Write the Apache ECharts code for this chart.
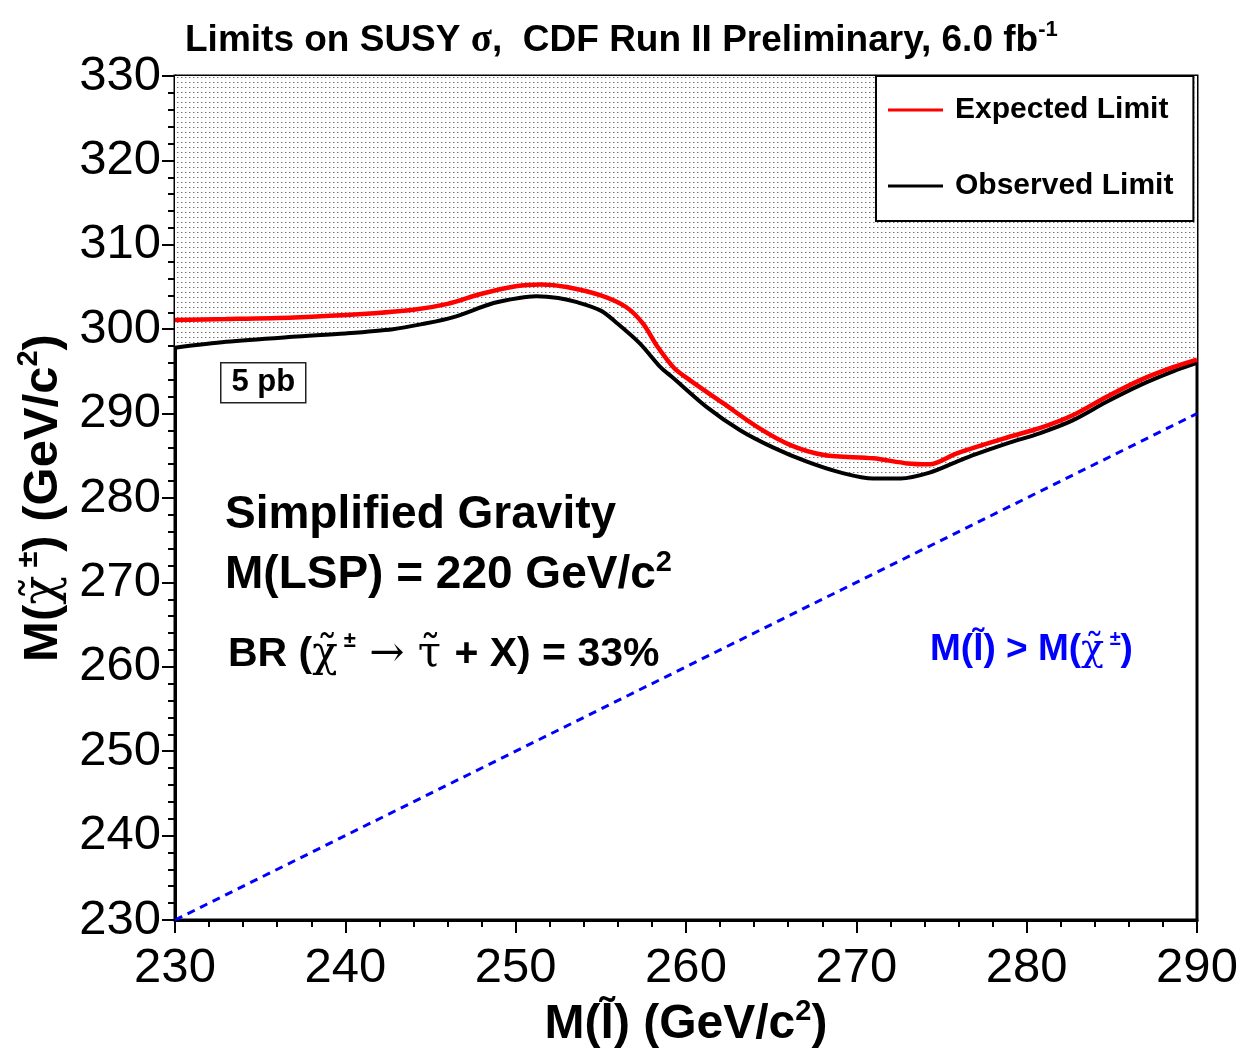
<!DOCTYPE html>
<html>
<head>
<meta charset="utf-8">
<title>Limits on SUSY cross section</title>
<script src="https://cdn.jsdelivr.net/npm/echarts@6/dist/echarts.min.js"></script>
<style>
  html, body { margin: 0; padding: 0; background: #fff; }
  #chart { width: 1242px; height: 1051px; }
</style>
</head>
<body>
<div id="chart"></div>
<script>
// Axis ranges (GeV/c^2)
const xRange = [230, 290];
const yRange = [230, 330];
const tickStep = 10;

// Expected limit: slepton mass vs chargino mass
const expectedX = [230, 233, 237, 241, 244, 246, 248, 250, 251.5, 253, 255, 256.5, 257.5, 258.3, 259.3, 260.2,
                   262.2, 264.2, 266.1, 268.1, 271.0, 273.0, 274.3, 275.9, 278.9, 280.8, 282.7, 284.7, 286.7, 288.6, 290];
const expectedY = [301.1, 301.2, 301.4, 301.8, 302.3, 303.0, 304.2, 305.1, 305.3, 305.0, 304.0, 302.6, 300.6, 298.0, 295.4, 294.0,
                   291.2, 288.4, 286.3, 285.1, 284.7, 284.1, 284.0, 285.3, 287.2, 288.3, 289.8, 292.0, 294.0, 295.5, 296.4];

// Observed limit
const observedX = [230, 233, 236.9, 240, 242.8, 244.5, 246.3, 248.7, 250.2, 251.2, 252.5, 253.6, 255.0, 255.9, 257.3, 258.5,
                   259.2, 261.2, 263.2, 265.1, 267.1, 269.1, 271.0, 272.6, 274.3, 275.9, 276.9, 278.9, 280.8, 282.7, 284.7,
                   286.7, 288.6, 290];
const observedY = [297.8, 298.5, 299.1, 299.5, 300.0, 300.6, 301.4, 303.1, 303.7, 303.9, 303.7, 303.2, 302.2, 300.8, 298.3, 295.5,
                   294.3, 290.8, 288.0, 286.0, 284.3, 283.0, 282.3, 282.3, 283.0, 284.3, 285.1, 286.5, 287.7, 289.2, 291.4,
                   293.4, 295.0, 296.0];

// Kinematic boundary M(slepton) = M(chargino)
const boundaryX = [230, 290];
const boundaryY = [230, 290];

const seriesNames = ['Expected Limit', 'Observed Limit'];

const zip = (xs, ys) => xs.map((x, i) => [x, ys[i]]);

// Stippled fill for the excluded region
function dotPattern() {
  const c = document.createElement('canvas');
  c.width = 4; c.height = 5;
  const g = c.getContext('2d');
  g.fillStyle = '#ffffff';
  g.fillRect(0, 0, 4, 5);
  g.fillStyle = '#707070';
  g.fillRect(1, 2, 1, 1);
  g.fillStyle = '#c0c0c0';
  g.fillRect(2, 2, 1, 1);
  return c;
}

const SANS = '"Liberation Sans", Arial, Helvetica, sans-serif';
const SERIF = '"DejaVu Serif", "Liberation Serif", serif';

const chart = echarts.init(document.getElementById('chart'), null, { renderer: 'canvas' });

const axisCommon = {
  type: 'value',
  interval: tickStep,
  axisLine: { show: true, onZero: false, lineStyle: { color: '#000', width: 3 } },
  axisTick: { show: true, inside: false, length: 13, lineStyle: { color: '#000', width: 2 } },
  minorTick: { show: true, splitNumber: 5, length: 7, lineStyle: { color: '#000', width: 2 } },
  splitLine: { show: false },
  minorSplitLine: { show: false },
  axisLabel: { color: '#000', fontFamily: SANS, fontSize: 49 }
};

const option = {
  animation: false,
  backgroundColor: '#fff',
  title: {
    left: 180,
    top: 14,
    text: '{b|Limits on SUSY }{g|σ}{b|,  CDF Run II Preliminary, 6.0 fb}{sup|-1}',
    textStyle: {
      rich: {
        b: { fontFamily: SANS, fontWeight: 'bold', fontSize: 37, color: '#000', lineHeight: 44 },
        g: { fontFamily: '"Liberation Serif", serif', fontSize: 39, color: '#000', lineHeight: 44 },
        sup: { fontFamily: SANS, fontWeight: 'bold', fontSize: 22, color: '#000', verticalAlign: 'top', lineHeight: 44 }
      }
    }
  },
  grid: {
    left: 175, right: 45, top: 76, bottom: 131,
    outerBoundsMode: 'none',
    show: true, borderColor: '#000', borderWidth: 3, backgroundColor: 'transparent'
  },
  legend: {
    data: [
      { name: seriesNames[0], itemStyle: { color: '#ff0000' } },
      { name: seriesNames[1], itemStyle: { color: '#000000' } }
    ],
    orient: 'vertical',
    left: 876,
    top: 76,
    icon: 'rect',
    itemWidth: 55,
    itemHeight: 3,
    itemGap: 46,
    padding: [19, 20, 20, 12],
    backgroundColor: '#fff',
    borderColor: '#000',
    borderWidth: 2,
    textStyle: { fontFamily: SANS, fontWeight: 'bold', fontSize: 30, color: '#000', padding: [0, 0, 0, 7] },
    selectedMode: false
  },
  xAxis: Object.assign({}, axisCommon, {
    min: xRange[0], max: xRange[1],
    axisLabel: Object.assign({}, axisCommon.axisLabel, { margin: 24 }),
    name: '{b|M(l\u0303) (GeV/c}{sup|2}{b|)}',
    nameLocation: 'middle',
    nameGap: 75,
    nameTextStyle: {
      rich: {
        b: { fontFamily: SANS, fontWeight: 'bold', fontSize: 48, color: '#000', lineHeight: 54 },
        sup: { fontFamily: SANS, fontWeight: 'bold', fontSize: 29, color: '#000', verticalAlign: 'top', lineHeight: 54 }
      }
    }
  }),
  yAxis: Object.assign({}, axisCommon, {
    min: yRange[0], max: yRange[1],
    axisLabel: Object.assign({}, axisCommon.axisLabel, { margin: 14 }),
    name: '{b|M(}{g|χ\u0303}{sup| ±}{b|) (GeV/c}{sup|2}{b|)}',
    nameLocation: 'middle',
    nameRotate: 90,
    nameGap: 92,
    nameTextStyle: {
      rich: {
        b: { fontFamily: SANS, fontWeight: 'bold', fontSize: 49, color: '#000', lineHeight: 58 },
        g: { fontFamily: SERIF, fontSize: 48, color: '#000', lineHeight: 58 },
        sup: { fontFamily: SANS, fontWeight: 'bold', fontSize: 29, color: '#000', verticalAlign: 'top', lineHeight: 58 }
      }
    }
  }),
  series: [
    {
      name: seriesNames[1],
      type: 'line',
      data: zip(observedX, observedY),
      smooth: 0.3,
      symbol: 'none',
      z: 2,
      color: '#000',
      lineStyle: { color: '#000', width: 4 },
      areaStyle: { origin: 'end', color: { image: dotPattern(), repeat: 'repeat' }, opacity: 1 }
    },
    {
      name: seriesNames[0],
      type: 'line',
      data: zip(expectedX, expectedY),
      smooth: 0.3,
      symbol: 'none',
      z: 3,
      color: '#ff0000',
      lineStyle: { color: '#ff0000', width: 4.5 }
    },
    {
      name: 'boundary',
      type: 'line',
      data: zip(boundaryX, boundaryY),
      symbol: 'none',
      z: 3,
      lineStyle: { color: '#0000ff', width: 3, type: [8, 6] }
    }
  ],
  graphic: [
    {
      type: 'group',
      left: 220, top: 362,
      children: [
        { type: 'rect', shape: { x: 0, y: 0, width: 85, height: 40 }, style: { fill: '#fff', stroke: '#222', lineWidth: 1.5 } },
        { type: 'text', x: 42.5, y: 20, style: { text: '5 pb', font: 'bold 31px ' + SANS, fill: '#000', align: 'center', verticalAlign: 'middle' } }
      ]
    },
    {
      type: 'text', x: 225, y: 515,
      style: { text: 'Simplified Gravity', font: 'bold 46px ' + SANS, fill: '#000', verticalAlign: 'middle' }
    },
    {
      type: 'text', x: 225, y: 575,
      style: {
        text: '{b|M(LSP) = 220 GeV/c}{sup|2}',
        verticalAlign: 'middle',
        rich: {
          b: { font: 'bold 46px ' + SANS, fill: '#000', lineHeight: 54 },
          sup: { font: 'bold 29px ' + SANS, fill: '#000', verticalAlign: 'top', lineHeight: 54 }
        }
      }
    },
    {
      type: 'text', x: 228, y: 655,
      style: {
        text: '{b|BR (}{g|χ\u0303}{sup| ±}{g| → τ\u0303 }{b|+ X) = 33%}',
        verticalAlign: 'middle',
        rich: {
          b: { font: 'bold 41px ' + SANS, fill: '#000', lineHeight: 54 },
          g: { font: '42px ' + SERIF, fill: '#000', lineHeight: 54 },
          sup: { font: 'bold 22px ' + SANS, fill: '#000', verticalAlign: 'top', lineHeight: 54, padding: [2, 0, 0, 0] }
        }
      }
    },
    {
      type: 'text', x: 930, y: 650,
      style: {
        text: '{b|M(l\u0303) > M(}{g|χ\u0303}{sup| ±}{b|)}',
        verticalAlign: 'middle',
        rich: {
          b: { font: 'bold 37px ' + SANS, fill: '#0000ff', lineHeight: 46 },
          g: { font: '38px ' + SERIF, fill: '#0000ff', lineHeight: 46 },
          sup: { font: 'bold 20px ' + SANS, fill: '#0000ff', verticalAlign: 'top', lineHeight: 46, padding: [2, 0, 0, 0] }
        }
      }
    }
  ]
};

chart.setOption(option);
</script>
</body>
</html>
